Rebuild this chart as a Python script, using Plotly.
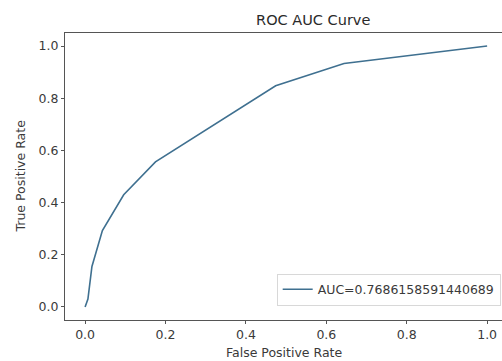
import plotly.graph_objects as go

fpr = [0.0, 0.007, 0.017, 0.043, 0.096, 0.175, 0.474, 0.644, 1.0]
tpr = [0.0, 0.03, 0.155, 0.293, 0.43, 0.556, 0.848, 0.933, 1.0]
auc_label = "AUC=0.7686158591440689"
x_ticks = [0.0, 0.2, 0.4, 0.6, 0.8, 1.0]
y_ticks = [0.0, 0.2, 0.4, 0.6, 0.8, 1.0]

font = "DejaVu Sans"
W, H = 502, 361
L, R, T, B = 65, 0, 33, 41

fig = go.Figure()
fig.add_trace(go.Scatter(x=fpr, y=tpr, mode="lines", name=auc_label,
                         line=dict(color="#3f7090", width=1.6)))

fig.update_layout(
    width=W, height=H,
    margin=dict(l=L, r=R, t=T, b=B, autoexpand=False),
    paper_bgcolor="white", plot_bgcolor="white",
    font=dict(family=font, size=12.5, color="#3a3a3a"),
    title=dict(text="ROC AUC Curve", x=0.568, xanchor="center", xref="paper",
               y=1 - 20 / H, yanchor="middle",
               font=dict(size=14.5, color="#2a2a2a", family=font)),
    showlegend=True,
    legend=dict(x=0.997, y=0.05, xanchor="right", yanchor="bottom",
                bgcolor="rgba(255,255,255,0.8)", bordercolor="#d8d8d8", borderwidth=1,
                font=dict(size=12.5, color="#3a3a3a", family=font),
                tracegroupgap=0, itemwidth=30),
    annotations=[
        dict(text="False Positive Rate", xref="paper", yref="paper", x=0.5, y=-(352 - (H - B)) / (H - T - B),
             xanchor="center", yanchor="middle", showarrow=False,
             font=dict(size=12.5, family=font, color="#3a3a3a")),
        dict(text="True Positive Rate", xref="paper", yref="paper", x=-(L - 20) / (W - L - R), y=0.5,
             xanchor="center", yanchor="middle", showarrow=False, textangle=-90,
             font=dict(size=12.5, family=font, color="#3a3a3a")),
    ],
)
fig.update_xaxes(range=[-0.05, 1.037], tickvals=x_ticks, ticktext=[f"{v:.1f}" for v in x_ticks],
                 showgrid=False, zeroline=False, showline=True, linecolor="#555555", linewidth=1.2,
                 mirror=True, ticks="outside", ticklen=3, tickcolor="#555555", automargin=False)
fig.update_yaxes(range=[-0.05, 1.05], tickvals=y_ticks, ticktext=[f"{v:.1f}" for v in y_ticks],
                 showgrid=False, zeroline=False, showline=True, linecolor="#555555", linewidth=1.2,
                 mirror=False, ticks="outside", ticklen=3, tickcolor="#555555", automargin=False)

fig.write_html("out.html", config={"displayModeBar": False},
               post_script="document.body.style.margin='0px';document.body.style.overflow='hidden';")
